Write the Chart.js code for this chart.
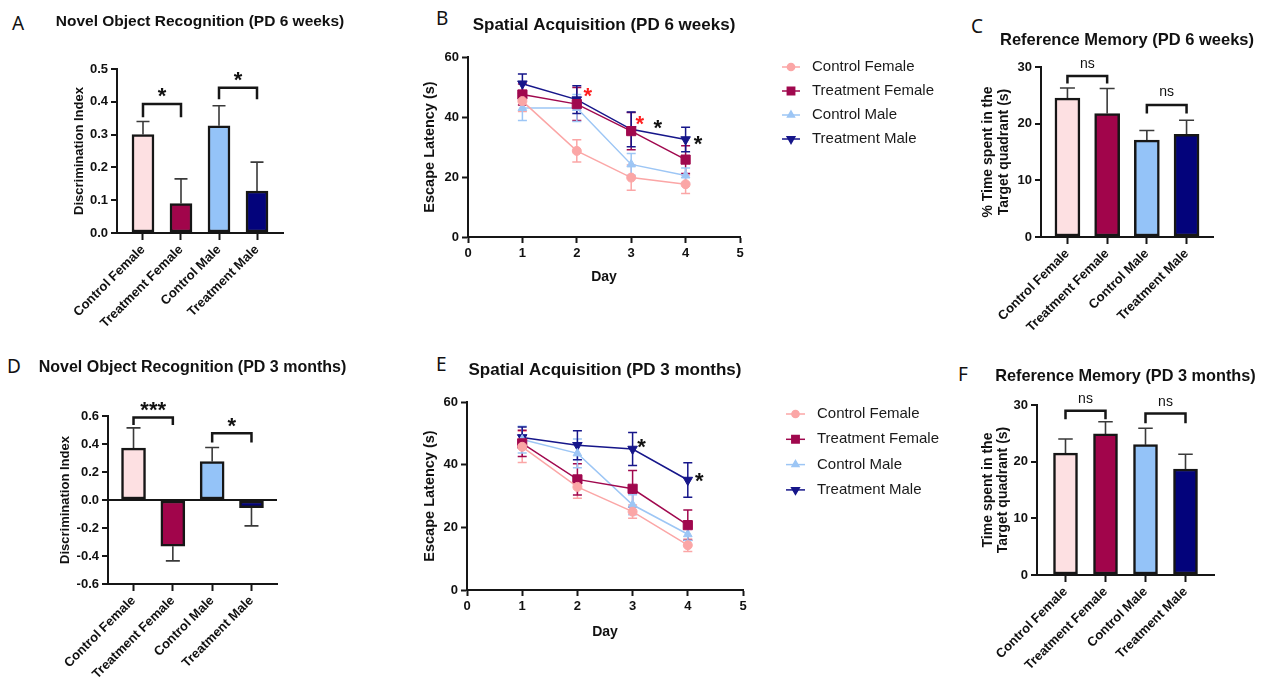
<!DOCTYPE html>
<html><head><meta charset="utf-8">
<script src="https://cdn.jsdelivr.net/npm/chart.js@4.4.1/dist/chart.umd.min.js"></script>
<style>
html,body{margin:0;padding:0;background:#fff;}
#wrap{position:relative;width:1262px;height:678px;overflow:hidden;background:#fff;}
canvas{position:absolute;}
.lt{position:absolute;font-family:'Noto Sans','Open Sans',sans-serif;font-size:19px;line-height:19px;color:#111;}
</style></head><body>
<div id="wrap">
  <div class="lt" style="left:12px;top:14px">A</div>
  <div class="lt" style="left:436px;top:9px">B</div>
  <div class="lt" style="left:971px;top:17px">C</div>
  <div class="lt" style="left:7px;top:357px">D</div>
  <div class="lt" style="left:436px;top:355px">E</div>
  <div class="lt" style="left:958px;top:365px">F</div>
  <canvas id="cA" width="380" height="340" style="left:0px;top:0px"></canvas>
  <canvas id="cB" width="560" height="300" style="left:400px;top:0px"></canvas>
  <canvas id="cC" width="302" height="340" style="left:960px;top:0px"></canvas>
  <canvas id="cD" width="380" height="338" style="left:0px;top:340px"></canvas>
  <canvas id="cE" width="560" height="338" style="left:400px;top:340px"></canvas>
  <canvas id="cF" width="302" height="338" style="left:960px;top:340px"></canvas>
</div>
<script>
// ---------------- data ----------------
const groups = ['Control Female', 'Treatment Female', 'Control Male', 'Treatment Male'];
const days = [1, 2, 3, 4];
const dayTicks = [0, 1, 2, 3, 4, 5];
const latencyTicks = [0, 20, 40, 60];
const nor6wTicks = [0, 0.1, 0.2, 0.3, 0.4, 0.5];
const nor3mTicks = [-0.6, -0.4, -0.2, 0, 0.2, 0.4, 0.6];
const refTicks = [0, 10, 20, 30];

// Novel object recognition (discrimination index)
const nor6wMean = [0.30, 0.09, 0.327, 0.128];
const nor6wSem  = [0.04, 0.075, 0.061, 0.088];
const nor3mMean = [0.37, -0.33, 0.275, -0.055];
const nor3mSem  = [0.145, 0.105, 0.10, 0.13];

// Reference memory (time in target quadrant)
const ref6wMean = [24.5, 21.8, 17.1, 18.1];
const ref6wSem  = [1.8, 4.4, 1.7, 2.5];
const ref3mMean = [21.5, 24.9, 23.0, 18.7];
const ref3mSem  = [2.5, 2.15, 2.9, 2.6];

// Spatial acquisition (escape latency), PD 6 weeks
const acq6wCF = [45.3, 28.7, 19.8, 17.6]; const acq6wCFSem = [3.5, 3.7, 4.2, 3.1];
const acq6wTF = [47.5, 44.3, 35.3, 25.8]; const acq6wTFSem = [3.5, 5.5, 6.2, 4.6];
const acq6wCM = [43.0, 43.0, 24.2, 20.5]; const acq6wCMSem = [4.2, 4.5, 3.6, 2.5];
const acq6wTM = [51.1, 45.8, 35.9, 32.5]; const acq6wTMSem = [3.2, 4.6, 5.8, 4.1];
// Spatial acquisition, PD 3 months
const acq3mCF = [45.7, 32.9, 25.0, 14.3]; const acq3mCFSem = [5.0, 3.6, 2.1, 2.0];
const acq3mTF = [46.8, 35.3, 32.3, 20.7]; const acq3mTFSem = [4.2, 5.0, 5.8, 4.8];
const acq3mCM = [48.0, 43.6, 27.2, 17.8]; const acq3mCMSem = [4.3, 4.6, 3.2, 2.0];
const acq3mTM = [48.7, 46.2, 45.0, 35.1]; const acq3mTMSem = [3.3, 4.6, 5.3, 5.5];

// significance brackets: [group a, group b, bracket level, leg end, label]
const nor6wSig = [[0, 1, 0.393, 0.353, '*'], [2, 3, 0.443, 0.408, '*']];
const nor3mSig = [[0, 1, 0.59, 0.536, '***'], [2, 3, 0.476, 0.41, '*']];
const ref6wSig = [[0, 1, 28.4, 27.1, 'ns'], [2, 3, 23.3, 21.8, 'ns']];
const ref3mSig = [[0, 1, 29.0, 27.5, 'ns'], [2, 3, 28.5, 26.8, 'ns']];
// significance marks on line plots: [day, latency, label, comparison]
const acq6wStars = [[2.2, 48.1, '*', 'F'], [3.16, 38.9, '*', 'F'], [3.49, 37.6, '*', 'M'], [4.23, 32.2, '*', 'M']];
const acq3mStars = [[3.16, 46.8, '*', 'M'], [4.21, 35.8, '*', 'M']];

// ---------------- styles ----------------
const FONT = "'Liberation Sans', Arial, Helvetica, sans-serif";
const EDGE = '#161616';
const BAR_FILL = ['#fde0e2', '#a1054b', '#94c3f8', '#03037b'];
const LINE_COLORS = ['#fba6a6', '#a0084e', '#9dc6f5', '#16168a'];
const MARKERS = [
  {style: 'circle', rot: 0, r: 4.5},
  {style: 'rect', rot: 0, r: 6.5},
  {style: 'triangle', rot: 0, r: 5},
  {style: 'triangle', rot: 180, r: 5.5}
];
const STAR_COLORS = {F: '#ff1f1f', M: '#111111'};

Chart.defaults.font.family = FONT;
Chart.defaults.color = '#111';

// ---------------- plugins ----------------
const errBars = {
  id: 'errBars',
  beforeDatasetsDraw(chart, args, o) {
    const ctx = chart.ctx, ys = chart.scales.y;
    chart.data.datasets.forEach((ds, di) => {
      if (!ds.errors) return;
      const meta = chart.getDatasetMeta(di);
      ctx.save();
      ctx.lineWidth = o.width;
      ctx.strokeStyle = o.color || ds.borderColor;
      meta.data.forEach((el, i) => {
        const v = ds.data[i].y, e = ds.errors[i];
        const x = el.x, h = o.cap / 2;
        ctx.beginPath();
        if (o.both) {
          const y1 = ys.getPixelForValue(v - e), y2 = ys.getPixelForValue(v + e);
          ctx.moveTo(x, y1); ctx.lineTo(x, y2);
          ctx.moveTo(x - h, y1); ctx.lineTo(x + h, y1);
          ctx.moveTo(x - h, y2); ctx.lineTo(x + h, y2);
        } else {
          const y1 = ys.getPixelForValue(v), y2 = ys.getPixelForValue(v + (v < 0 ? -e : e));
          ctx.moveTo(x, y1); ctx.lineTo(x, y2);
          ctx.moveTo(x - h, y2); ctx.lineTo(x + h, y2);
        }
        ctx.stroke();
      });
      ctx.restore();
    });
  }
};

function centeredText(ctx, txt, cx, cy) {
  const m = ctx.measureText(txt);
  const base = cy + (m.actualBoundingBoxAscent - m.actualBoundingBoxDescent) / 2;
  ctx.fillText(txt, cx, base);
}

// panel heading, centred over the plotting area (no width squeezing)
const panelTitle = {
  id: 'panelTitle',
  afterDraw(chart, args, o) {
    if (!o.text) return;
    const ctx = chart.ctx, a = chart.chartArea;
    ctx.save();
    ctx.font = o.font; ctx.fillStyle = '#111';
    ctx.textAlign = 'center'; ctx.textBaseline = 'middle';
    ctx.fillText(o.text, (a.left + a.right) / 2, a.top - o.offset);
    ctx.restore();
  }
};

const sigBrackets = {
  id: 'sigBrackets',
  afterDatasetsDraw(chart, args, o) {
    if (!o.items) return;
    const ctx = chart.ctx, xs = chart.scales.x, ys = chart.scales.y;
    ctx.save();
    ctx.strokeStyle = EDGE; ctx.lineWidth = o.lineWidth; ctx.lineJoin = 'miter';
    o.items.forEach(it => {
      const x1 = xs.getPixelForValue(it[0]), x2 = xs.getPixelForValue(it[1]);
      const yt = ys.getPixelForValue(it[2]), yl = ys.getPixelForValue(it[3]);
      ctx.beginPath();
      ctx.moveTo(x1, yl); ctx.lineTo(x1, yt); ctx.lineTo(x2, yt); ctx.lineTo(x2, yl);
      ctx.stroke();
      ctx.font = it[4] === 'ns' ? o.nsFont : o.starFont;
      ctx.fillStyle = '#111'; ctx.textAlign = 'center'; ctx.textBaseline = 'alphabetic';
      centeredText(ctx, it[4], (x1 + x2) / 2, yt - o.gap);
    });
    ctx.restore();
  }
};

const sigStars = {
  id: 'sigStars',
  afterDatasetsDraw(chart, args, o) {
    if (!o.items) return;
    const ctx = chart.ctx, xs = chart.scales.x, ys = chart.scales.y;
    ctx.save();
    ctx.font = o.font; ctx.textAlign = 'center'; ctx.textBaseline = 'alphabetic';
    o.items.forEach(it => {
      ctx.fillStyle = STAR_COLORS[it[3]];
      centeredText(ctx, it[2], xs.getPixelForValue(it[0]), ys.getPixelForValue(it[1]));
    });
    ctx.restore();
  }
};

function drawMarker(ctx, style, rot, r, x, y) {
  if (Chart.helpers && Chart.helpers.drawPoint) {
    Chart.helpers.drawPoint(ctx, {pointStyle: style, rotation: rot, radius: r, borderWidth: 1}, x, y);
    return;
  }
  ctx.beginPath(); ctx.arc(x, y, r, 0, Math.PI * 2); ctx.fill();
}

const seriesKey = {
  id: 'seriesKey',
  afterDraw(chart, args, o) {
    if (!o.display) return;
    const ctx = chart.ctx, a = chart.chartArea;
    ctx.save();
    chart.data.datasets.forEach((ds, i) => {
      const y = a.top + o.top + i * o.step;
      const x0 = a.right + o.left;
      ctx.strokeStyle = ds.borderColor; ctx.lineWidth = 1.5;
      ctx.beginPath(); ctx.moveTo(x0, y); ctx.lineTo(x0 + o.len, y); ctx.stroke();
      ctx.fillStyle = ds.backgroundColor;
      drawMarker(ctx, ds.pointStyle, ds.pointRotation || 0, ds.pointRadius * 0.8, x0 + o.len / 2, y);
      ctx.fillStyle = '#1a1a1a'; ctx.font = o.font; ctx.textAlign = 'left'; ctx.textBaseline = 'middle';
      ctx.fillText(ds.label, a.right + o.textLeft, y);
    });
    ctx.restore();
  }
};

// ---------------- builders ----------------
function axisTitle(text, size, lh, pad, padBottom) {
  return {display: true, text: text, color: '#111',
    font: {size: size, weight: 'bold', lineHeight: lh},
    padding: {top: pad, bottom: padBottom || 0}};
}

function makeBar(id, p) {
  return new Chart(document.getElementById(id), {
    type: 'bar',
    data: {datasets: [{
      data: p.mean.map((v, i) => ({x: i, y: v})),
      errors: p.sem,
      backgroundColor: BAR_FILL, borderColor: EDGE, borderWidth: 2.5,
      borderSkipped: false, barThickness: p.bar
    }]},
    options: {
      responsive: false, animation: false, devicePixelRatio: 1,
      layout: {padding: {top: p.padT, left: 0, bottom: 0, right: p.padR}},
      plugins: {
        legend: {display: false}, tooltip: {enabled: false}, title: {display: false},
        panelTitle: {text: p.title, font: 'bold ' + p.titleSize + 'px ' + FONT, offset: p.tOff},
        errBars: {cap: p.cap, width: 1.6, color: '#3a3a3a', both: false},
        sigBrackets: {items: p.sig, lineWidth: 2.5, gap: p.gap, starFont: 'bold 22px ' + FONT, nsFont: '14px ' + FONT}
      },
      scales: {
        x: {
          type: 'linear', min: p.xMin, max: p.xMax, offset: false,
          afterBuildTicks: s => { s.ticks = groups.map((g, i) => ({value: i})); },
          afterFit: s => { s.height = p.xH; },
          ticks: {autoSkip: false, minRotation: 45, maxRotation: 45,
            callback: v => groups[Math.round(v)] || '',
            font: {size: 13, weight: 'bold'}, color: '#111', padding: 2},
          grid: {display: true, drawOnChartArea: false, drawTicks: true, tickLength: 7,
            tickWidth: 2, tickColor: EDGE, offset: false},
          border: {display: true, color: EDGE, width: 2}
        },
        y: {
          min: p.yTicks[0], max: p.yTicks[p.yTicks.length - 1],
          afterBuildTicks: s => { s.ticks = p.yTicks.map(v => ({value: v})); },
          afterFit: s => { s.width = p.yW; },
          ticks: {callback: v => Number(v).toFixed(p.dec), font: {size: 13, weight: 'bold'}, color: '#111', padding: 3},
          grid: {drawOnChartArea: !!p.zeroLine,
            color: c => (p.zeroLine && c.tick && c.tick.value === 0) ? EDGE : 'rgba(0,0,0,0)',
            lineWidth: 2, drawTicks: true, tickLength: 6, tickWidth: 2, tickColor: EDGE},
          border: {display: true, color: EDGE, width: 2},
          title: axisTitle(p.yTitle, p.yTitleSize, p.yTitleLH, p.yTitlePad)
        }
      }
    },
    plugins: [errBars, sigBrackets, panelTitle]
  });
}

function makeLine(id, p) {
  const datasets = p.series.map((s, k) => ({
    label: groups[k],
    data: days.map((d, i) => ({x: d, y: s[0][i]})),
    errors: s[1],
    borderColor: LINE_COLORS[k], backgroundColor: LINE_COLORS[k],
    borderWidth: 1.5, tension: 0,
    pointStyle: MARKERS[k].style, pointRotation: MARKERS[k].rot, pointRadius: MARKERS[k].r,
    pointBorderWidth: 1
  }));
  return new Chart(document.getElementById(id), {
    type: 'line',
    data: {datasets: datasets},
    options: {
      responsive: false, animation: false, devicePixelRatio: 1,
      layout: {padding: {top: p.padT, left: 0, bottom: 0, right: p.padR}},
      plugins: {
        legend: {display: false}, tooltip: {enabled: false}, title: {display: false},
        panelTitle: {text: p.title, font: 'bold ' + p.titleSize + 'px ' + FONT, offset: p.tOff},
        errBars: {cap: 9, width: 1.5, both: true},
        sigStars: {items: p.stars, font: 'bold 22px ' + FONT},
        seriesKey: {display: true, left: p.key[0], len: p.key[1], textLeft: p.key[2], top: p.key[3], step: p.key[4], font: '15px ' + FONT}
      },
      scales: {
        x: {
          type: 'linear', min: 0, max: 5,
          afterBuildTicks: s => { s.ticks = dayTicks.map(v => ({value: v})); },
          afterFit: s => { s.height = p.xH; },
          ticks: {font: {size: 13, weight: 'bold'}, color: '#111', padding: 3},
          grid: {drawOnChartArea: false, drawTicks: true, tickLength: 6, tickWidth: 2, tickColor: EDGE},
          border: {display: true, color: EDGE, width: 2},
          title: {display: true, text: 'Day', color: '#111', font: {size: 14, weight: 'bold', lineHeight: 1.2}, padding: {top: 0, bottom: p.xTitlePad}}
        },
        y: {
          min: 0, max: 60,
          afterBuildTicks: s => { s.ticks = latencyTicks.map(v => ({value: v})); },
          afterFit: s => { s.width = p.yW; },
          ticks: {font: {size: 13, weight: 'bold'}, color: '#111', padding: 3},
          grid: {drawOnChartArea: false, drawTicks: true, tickLength: 6, tickWidth: 2, tickColor: EDGE},
          border: {display: true, color: EDGE, width: 2},
          title: axisTitle('Escape Latency (s)', 14.5, 1.2, 21.3)
        }
      }
    },
    plugins: [errBars, sigStars, seriesKey, panelTitle]
  });
}

// ---------------- charts ----------------
makeBar('cA', {
  mean: nor6wMean, sem: nor6wSem, sig: nor6wSig, yTicks: nor6wTicks, dec: 1,
  title: 'Novel Object Recognition (PD 6 weeks)', titleSize: 15.5, tOff: 47, padT: 69,
  yTitle: 'Discrimination Index', yTitleSize: 13, yTitleLH: 1.2, yTitlePad: 71.2,
  yW: 117, xH: 107, padR: 97, xMin: -0.684, xMax: 3.684, bar: 22, cap: 13, gap: 11.5
});
makeBar('cD', {
  mean: nor3mMean, sem: nor3mSem, sig: nor3mSig, yTicks: nor3mTicks, dec: 1, zeroLine: true,
  title: 'Novel Object Recognition (PD 3 months)', titleSize: 16, tOff: 48, padT: 76,
  yTitle: 'Discrimination Index', yTitleSize: 13, yTitleLH: 1.2, yTitlePad: 57.2,
  yW: 108, xH: 94, padR: 103, xMin: -0.649, xMax: 3.649, bar: 24, cap: 14, gap: 11
});
makeBar('cC', {
  mean: ref6wMean, sem: ref6wSem, sig: ref6wSig, yTicks: refTicks, dec: 0,
  title: 'Reference Memory (PD 6 weeks)', titleSize: 16.5, tOff: 27, padT: 67,
  yTitle: ['% Time spent in the', 'Target quadrant (s)'], yTitleSize: 14, yTitleLH: 1.143, yTitlePad: 20.3,
  yW: 81, xH: 103, padR: 49, xMin: -0.666, xMax: 3.666, bar: 25, cap: 15, gap: 12.5
});
makeBar('cF', {
  mean: ref3mMean, sem: ref3mSem, sig: ref3mSig, yTicks: refTicks, dec: 0,
  title: 'Reference Memory (PD 3 months)', titleSize: 16.3, tOff: 28, padT: 65,
  yTitle: ['Time spent in the', 'Target quadrant (s)'], yTitleSize: 14, yTitleLH: 1.08, yTitlePad: 20.8,
  yW: 77, xH: 103, padR: 48, xMin: -0.7125, xMax: 3.7125, bar: 24, cap: 14.5, gap: 11.5
});
makeLine('cB', {
  series: [[acq6wCF, acq6wCFSem], [acq6wTF, acq6wTFSem], [acq6wCM, acq6wCMSem], [acq6wTM, acq6wTMSem]],
  stars: acq6wStars,
  title: 'Spatial Acquisition (PD 6 weeks)', titleSize: 17, tOff: 32, padT: 57,
  yW: 68, xH: 63, padR: 220, xTitlePad: 14.6, key: [42, 18, 72, 10, 24]
});
makeLine('cE', {
  series: [[acq3mCF, acq3mCFSem], [acq3mTF, acq3mTFSem], [acq3mCM, acq3mCMSem], [acq3mTM, acq3mTMSem]],
  stars: acq3mStars,
  title: 'Spatial Acquisition (PD 3 months)', titleSize: 17, tOff: 32, padT: 62,
  yW: 67, xH: 88, padR: 217, xTitlePad: 37.6, key: [43, 19, 74, 12, 25.3]
});
</script>
</body></html>
